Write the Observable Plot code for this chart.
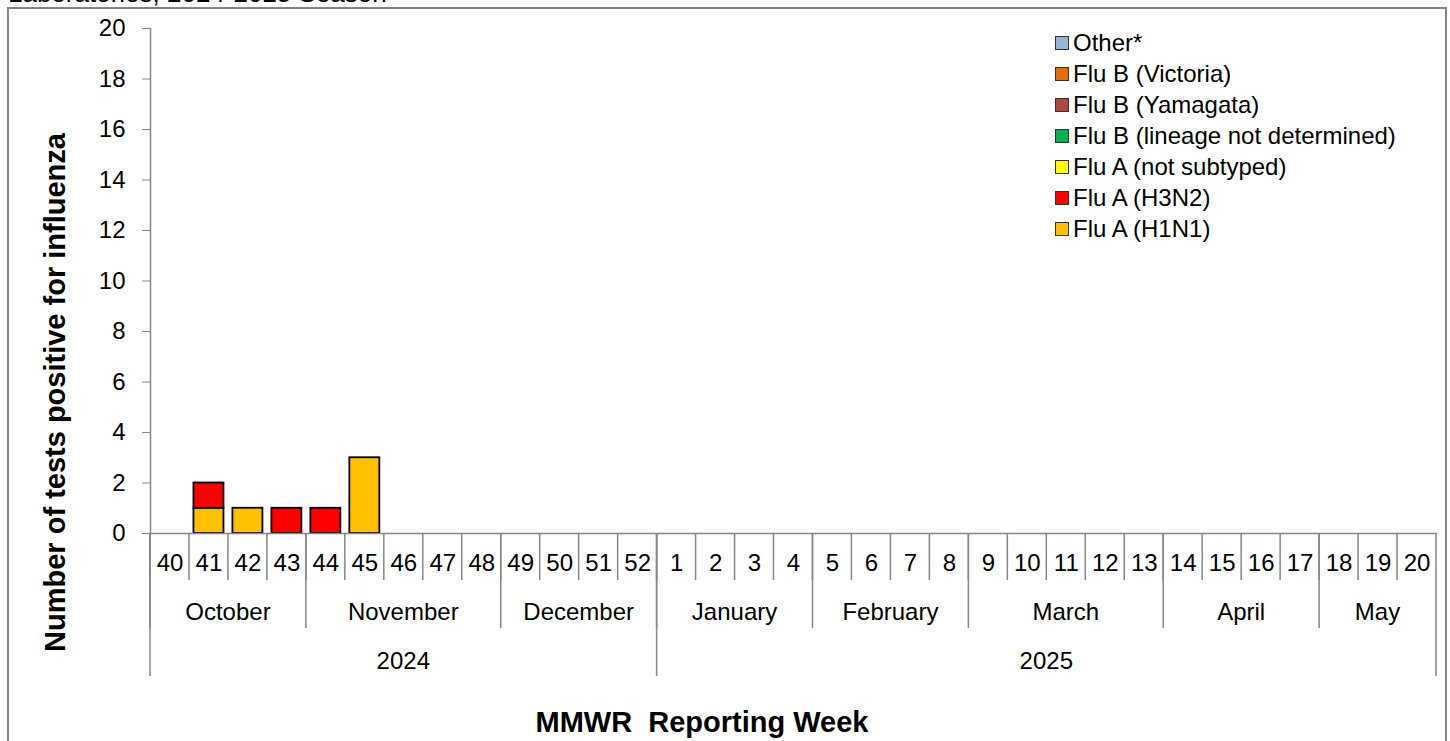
<!DOCTYPE html>
<html><head><meta charset="utf-8">
<script src="https://cdn.jsdelivr.net/npm/d3@7"></script>
<script src="https://cdn.jsdelivr.net/npm/@observablehq/plot@0.6"></script>
<style>
body{margin:0;width:1450px;height:741px;overflow:hidden;position:relative;background:#fff;font-family:"Liberation Sans",Arial,sans-serif;color:#000;}
#title{position:absolute;left:8px;top:-20px;font-size:26px;white-space:nowrap;line-height:26px;}
#frame{position:absolute;left:7px;top:7px;width:1440px;height:780px;border:2px solid #868686;box-sizing:border-box;}
#chart{position:absolute;left:0;top:0;}
#legend{position:absolute;left:1055px;top:27px;font-size:24px;line-height:31px;}
#legend .row{display:flex;align-items:center;white-space:nowrap;}
#legend .sw{width:12px;height:12px;border:1.5px solid #333;margin-right:4px;}
</style></head>
<body>
<div id="title">Laboratories, 2024-2025 Season</div>
<div id="frame"></div>
<div id="chart"></div>
<div id="legend"></div>
<script>
const weeks = ["40","41","42","43","44","45","46","47","48","49","50","51","52",
  "1","2","3","4","5","6","7","8","9","10","11","12","13","14","15","16","17","18","19","20"];
const seriesNames = ["Flu A (H1N1)","Flu A (H3N2)","Flu A (not subtyped)","Flu B (lineage not determined)","Flu B (Yamagata)","Flu B (Victoria)","Other*"];
const seriesColors = ["#FFC000","#FF0000","#FFFF00","#00B050","#B0463F","#E46C0A","#95B3D7"];
// counts per week, by series (only non-zero weeks listed)
const fluA_H1N1 = {"41":1,"42":1,"45":3};
const fluA_H3N2 = {"41":1,"43":1,"44":1};
const fluA_notSubtyped = {};
const fluB_lineageND = {};
const fluB_Yamagata = {};
const fluB_Victoria = {};
const other = {};
const seriesValues = [fluA_H1N1, fluA_H3N2, fluA_notSubtyped, fluB_lineageND, fluB_Yamagata, fluB_Victoria, other];
const yTicks = [0,2,4,6,8,10,12,14,16,18,20];
const months = ["October","November","December","January","February","March","April","May"];
const monthFirstWeek = ["40","44","49","1","5","9","14","18"];
const monthLastWeek = ["43","48","52","4","8","13","17","20"];
const years = ["2024","2025"];
const yearFirstWeek = ["40","1"];
const yearLastWeek = ["52","20"];
const yTitle = "Number of tests positive for influenza";
const xTitle = "MMWR  Reporting Week";

const rows = [];
seriesNames.forEach((s, i) => {
  weeks.forEach(w => {
    const v = seriesValues[i][w] || 0;
    if (v > 0) rows.push({week: w, series: s, count: v, order: i});
  });
});

const plot = Plot.plot({
  width: 1450, height: 741,
  marginLeft: 150, marginRight: 14, marginTop: 28, marginBottom: 208,
  style: {fontFamily: '"Liberation Sans", Arial, sans-serif', color: "#000", background: "transparent", overflow: "visible"},
  x: {type: "band", domain: weeks, paddingInner: 0.23, paddingOuter: 0.115},
  y: {domain: [0, 20]},
  color: {domain: seriesNames, range: seriesColors},
  marks: [
    Plot.barY(rows, Plot.stackY({x: "week", y: "count", fill: "series", order: "order", stroke: "#000", strokeWidth: 1.8})),
    Plot.frame({anchor: "left", stroke: "#868686", strokeWidth: 1.5}),
    Plot.frame({anchor: "bottom", stroke: "#868686", strokeWidth: 1.5}),
    Plot.axisY({ticks: yTicks, tickSize: 8, tickPadding: 17, fontSize: 24, stroke: "#868686", fill: "#000", label: null, tickFormat: d => String(d)}),
    Plot.axisX({tickSize: 0, tickPadding: 20, fontSize: 24, fill: "#000", label: null})
  ]
});
document.getElementById("chart").appendChild(plot);

const xs = plot.scale("x"), ys = plot.scale("y");
const step = xs.apply(weeks[1]) - xs.apply(weeks[0]);
const half = (step - xs.bandwidth) / 2;
const cellLeft = w => xs.apply(w) - half;
const cellRight = w => xs.apply(w) - half + step;
const y0 = ys.apply(0);
const svg = d3.select(plot);
const g = svg.append("g").attr("stroke", "#868686").attr("stroke-width", 1.5);
// week separators
weeks.forEach(w => {
  g.append("line").attr("x1", cellLeft(w)).attr("x2", cellLeft(w)).attr("y1", y0).attr("y2", y0 + 47);
});
// month separators
monthFirstWeek.forEach(w => {
  g.append("line").attr("x1", cellLeft(w)).attr("x2", cellLeft(w)).attr("y1", y0).attr("y2", y0 + 95);
});
// year separators (incl. right edge)
yearFirstWeek.forEach(w => {
  g.append("line").attr("x1", cellLeft(w)).attr("x2", cellLeft(w)).attr("y1", y0).attr("y2", y0 + 143);
});
const lastW = weeks[weeks.length - 1];
g.append("line").attr("x1", cellRight(lastW)).attr("x2", cellRight(lastW)).attr("y1", y0).attr("y2", y0 + 143);

const tg = svg.append("g").attr("font-family", '"Liberation Sans", Arial, sans-serif').attr("fill", "#000").attr("text-anchor", "middle");
months.forEach((m, i) => {
  const cx = (cellLeft(monthFirstWeek[i]) + cellRight(monthLastWeek[i])) / 2;
  tg.append("text").attr("x", cx).attr("y", y0 + 79).attr("dy", "0.35em").attr("font-size", 24).text(m);
});
years.forEach((yv, i) => {
  const cx = (cellLeft(yearFirstWeek[i]) + cellRight(yearLastWeek[i])) / 2;
  tg.append("text").attr("x", cx).attr("y", y0 + 128).attr("dy", "0.35em").attr("font-size", 24).text(yv);
});
tg.append("text").attr("x", 702).attr("y", y0 + 189).attr("dy", "0.35em").attr("font-size", 29).attr("font-weight", "bold").style("white-space", "pre").text(xTitle);
tg.append("text").attr("transform", `translate(55,${(ys.apply(20) + y0) / 2 + 112}) rotate(-90)`).attr("dy", "0.35em").attr("font-size", 29).attr("font-weight", "bold").text(yTitle);

// legend (top-to-bottom in reverse stacking order)
const leg = d3.select("#legend");
seriesNames.slice().reverse().forEach((s) => {
  const r = leg.append("div").attr("class", "row");
  r.append("div").attr("class", "sw").style("background", seriesColors[seriesNames.indexOf(s)]);
  r.append("span").text(s);
});
</script>
</body></html>
